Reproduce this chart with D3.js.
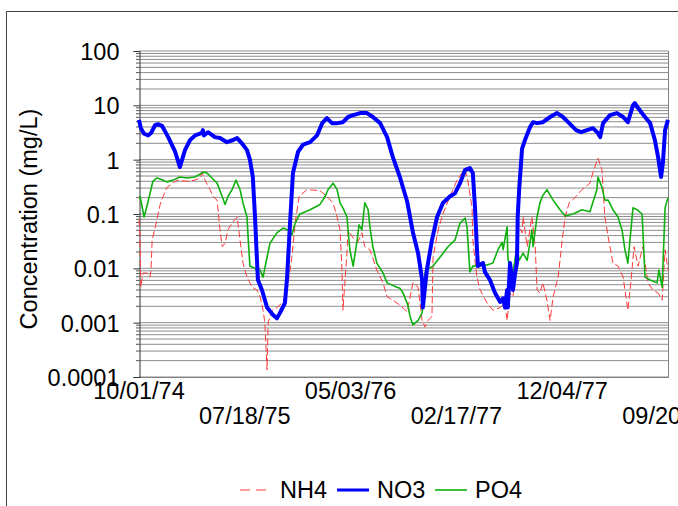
<!DOCTYPE html>
<html>
<head>
<meta charset="utf-8">
<script src="https://cdnjs.cloudflare.com/ajax/libs/d3/7.8.5/d3.min.js"></script>
<style>
  body { margin: 0; background: #fff; }
  svg { display: block; font-family: Arial, "Liberation Sans", sans-serif; }
</style>
</head>
<body>
<svg id="chart"></svg>
<script>
'use strict';

// sample day (days after 10/01/74) and concentration (mg/L) for each series
var startDate = "10/01/74";

var nh4Day = [0,3,5,11,22,30,33,36,44,49,
  58,66,77,85,104,132,153,167,173,181,
  195,203,214,222,228,236,244,255,263,269,
  277,285,296,310,323,332,340,345,351,354,
  365,378,395,406,419,428,439,460,496,515,
  532,543,551,556,559,570,573,587,600,611,
  619,633,652,669,680,696,715,735,751,765,
  776,784,792,803,806,820,833,852,872,885,
  894,902,913,915,926,935,954,970,990,1003,
  1009,1017,1025,1036,1039,1050,1053,1064,1077,1086,
  1091,1099,1107,1118,1127,1135,1149,1160,1168,1179,
  1198,1214,1236,1244,1258,1269,1277,1286,1299,1313,
  1327,1340,1348,1357,1368,1381,1395,1409,1423,1434,
  1442,1450];
var nh4Val = [0.078,0.033,0.0045,0.0082,0.0082,0.0069,0.0093,0.033,0.055,0.078,
  0.15,0.21,0.31,0.34,0.42,0.40,0.42,0.46,0.57,0.42,
  0.28,0.21,0.18,0.051,0.025,0.029,0.051,0.068,0.078,0.088,
  0.033,0.0125,0.0069,0.0045,0.004,0.003,0.0017,0.001,0.000135,0.001,
  0.0017,0.0019,0.0024,0.004,0.016,0.068,0.21,0.28,0.27,0.21,
  0.16,0.088,0.051,0.011,0.0017,0.019,0.051,0.036,0.031,0.045,
  0.025,0.022,0.0093,0.0054,0.003,0.0026,0.0021,0.0016,0.0054,0.0045,
  0.0011,0.00083,0.0011,0.0013,0.016,0.051,0.10,0.21,0.42,0.57,
  0.65,0.39,0.13,0.033,0.0069,0.004,0.0023,0.0017,0.0019,0.0023,
  0.0011,0.0035,0.003,0.0125,0.068,0.045,0.088,0.025,0.088,0.025,
  0.004,0.0035,0.0054,0.0026,0.0011,0.003,0.0069,0.033,0.088,0.16,
  0.21,0.28,0.37,0.57,1.07,0.65,0.088,0.038,0.0125,0.011,
  0.0069,0.0017,0.0054,0.025,0.011,0.025,0.0054,0.004,0.0035,0.0026,
  0.022,0.0093];

var no3Day = [0,5,14,25,33,44,52,63,80,99,
  112,126,140,154,173,175,178,189,208,222,
  241,258,269,282,296,304,312,318,323,326,
  337,351,367,378,386,400,406,414,422,436,
  450,469,488,502,515,529,543,559,573,587,
  606,625,641,661,680,696,715,735,751,765,
  776,778,789,803,817,833,852,866,880,894,
  907,915,921,926,929,943,948,962,976,990,
  998,1003,1009,1011,1017,1022,1025,1031,1036,1038,
  1042,1050,1058,1072,1080,1091,1107,1127,1146,1162,
  1179,1198,1212,1228,1244,1258,1264,1272,1291,1310,
  1327,1340,1354,1359,1368,1387,1401,1414,1423,1431,
  1436,1442,1450];
var no3Val = [5.4,3.8,3.0,2.8,3.1,4.3,4.5,4.2,2.6,1.4,
  0.73,1.5,2.3,2.8,3.1,3.5,2.8,3.2,2.6,2.5,
  2.1,2.3,2.5,2.0,1.5,1.0,0.48,0.088,0.016,0.0061,
  0.004,0.0019,0.0014,0.0012,0.0015,0.0023,0.0069,0.068,0.57,1.4,
  1.9,2.1,2.8,4.7,5.8,4.7,4.7,4.9,6.1,6.6,
  7.2,7.2,6.1,4.7,2.6,1.1,0.48,0.17,0.045,0.019,
  0.0061,0.0019,0.0093,0.033,0.088,0.16,0.21,0.24,0.37,0.65,
  0.70,0.57,0.13,0.025,0.011,0.0125,0.0086,0.0061,0.0035,0.0024,
  0.0028,0.0019,0.004,0.0019,0.0125,0.0069,0.004,0.0082,0.0125,0.088,
  0.28,1.6,2.3,4.0,4.9,4.7,4.9,6.1,7.2,6.1,
  4.7,3.5,3.2,3.5,3.8,3.1,2.6,4.7,6.6,7.2,
  6.1,4.9,10,11,8.9,6.1,4.7,2.3,1.1,0.48,
  0.87,3.5,5.4];

var po4Day = [0,3,14,25,38,49,58,77,93,112,
  132,153,167,175,186,200,214,228,236,244,
  255,266,277,285,296,299,304,318,323,332,
  340,351,359,378,395,408,419,428,441,469,
  496,510,518,532,543,551,559,570,578,587,
  598,603,611,619,628,633,641,652,669,680,
  707,715,724,737,743,751,765,776,784,789,
  806,825,847,866,880,894,899,907,915,940,
  954,970,984,995,998,1009,1011,1017,1025,1036,
  1042,1053,1064,1077,1080,1091,1099,1107,1118,1135,
  1154,1168,1190,1214,1236,1255,1258,1269,1277,1286,
  1299,1313,1324,1332,1340,1354,1365,1379,1387,1401,
  1420,1425,1434,1442,1450];
var po4Val = [0.21,0.21,0.088,0.17,0.40,0.46,0.44,0.39,0.42,0.48,
  0.46,0.48,0.54,0.59,0.57,0.46,0.37,0.21,0.15,0.21,
  0.28,0.42,0.28,0.16,0.088,0.038,0.011,0.010,0.0093,0.0093,
  0.0069,0.016,0.029,0.045,0.055,0.051,0.041,0.068,0.10,0.12,
  0.15,0.21,0.28,0.37,0.28,0.16,0.13,0.088,0.022,0.011,
  0.033,0.063,0.051,0.16,0.12,0.058,0.025,0.0125,0.0082,0.0054,
  0.0045,0.0043,0.0035,0.0021,0.0013,0.00091,0.0011,0.0015,0.0082,0.0093,
  0.011,0.016,0.025,0.033,0.068,0.084,0.058,0.0086,0.011,0.0115,
  0.0115,0.0125,0.022,0.030,0.022,0.058,0.016,0.0093,0.0082,0.025,
  0.014,0.019,0.014,0.051,0.025,0.088,0.16,0.22,0.28,0.18,
  0.12,0.092,0.10,0.12,0.11,0.28,0.48,0.31,0.18,0.18,
  0.12,0.088,0.051,0.022,0.0125,0.13,0.12,0.10,0.0069,0.0061,
  0.0054,0.0093,0.0045,0.13,0.20];

var xTickLabels = ["10/01/74","07/18/75","05/03/76","02/17/77","12/04/77","09/20/78"];
var yTickValues = [0.0001,0.001,0.01,0.1,1,10,100];
var yTickLabels = ["0.0001","0.001","0.01","0.1","1","10","100"];

var seriesNames = ["NH4","NO3","PO4"];

var width = 678,
    height = 506;

var fontSize = "23.5px";

var plot = { left: 139, right: 668, top: 51, bottom: 377 };

var parseDate = d3.timeParse("%m/%d/%y");
var t0 = parseDate(startDate);

var svg = d3.select("svg#chart")
    .attr("width", width)
    .attr("height", height);

var x = d3.scaleTime()
    .domain([t0, parseDate(xTickLabels[xTickLabels.length - 1])])
    .range([plot.left, plot.right]);

var y = d3.scaleLog()
    .domain([yTickValues[0], yTickValues[yTickValues.length - 1]])
    .range([plot.bottom, plot.top]);

// outer chart frame (runs off the right and bottom of the picture)
svg.append("path")
    .attr("d", "M6.5," + height + "V11.5H" + width)
    .attr("fill", "none")
    .attr("stroke", "#404040")
    .attr("stroke-width", 1);

// minor log gridlines, 1..9 in every decade
svg.append("g")
    .selectAll("line")
    .data(y.ticks())
  .enter().append("line")
    .attr("x1", plot.left)
    .attr("x2", plot.right)
    .attr("y1", function(d) { return y(d); })
    .attr("y2", function(d) { return y(d); })
    .attr("stroke", "#8c8c8c")
    .attr("stroke-width", 1);

// right and bottom edges of the plot area
svg.append("path")
    .attr("d", "M" + plot.left + "," + (plot.bottom + 0.5) + "H" + (plot.right + 0.5) + "V" + plot.top)
    .attr("fill", "none")
    .attr("stroke", "#808080");

// y axis
var yAxis = d3.axisLeft(y)
    .tickValues(yTickValues)
    .tickFormat(function(d, i) { return yTickLabels[i]; })
    .tickSize(6)
    .tickPadding(14);

var yg = svg.append("g")
    .attr("transform", "translate(" + (plot.left + 0.5) + ",0)")
    .call(yAxis);
yg.select(".domain").attr("stroke", "#333");
yg.selectAll(".tick line").attr("stroke", "#333");
yg.selectAll(".tick text")
    .attr("fill", "#000")
    .style("font-size", fontSize)
    .attr("dy", "0.36em");

// minor ticks on the y axis
svg.append("g")
    .selectAll("line")
    .data(y.ticks().filter(function(d) { return yTickValues.indexOf(d) < 0; }))
  .enter().append("line")
    .attr("x1", plot.left - 3)
    .attr("x2", plot.left)
    .attr("y1", function(d) { return y(d); })
    .attr("y2", function(d) { return y(d); })
    .attr("stroke", "#555");

// date labels, alternating between two rows
svg.append("g")
    .selectAll("text")
    .data(xTickLabels)
  .enter().append("text")
    .attr("x", function(d) { return x(parseDate(d)); })
    .attr("y", function(d, i) { return i % 2 ? 424 : 399; })
    .attr("text-anchor", "middle")
    .style("font-size", fontSize)
    .text(function(d) { return d; });

svg.append("text")
    .attr("transform", "translate(37,219) rotate(-90)")
    .attr("text-anchor", "middle")
    .style("font-size", fontSize)
    .text("Concentration (mg/L)");

function toPoints(days, vals) {
  return days.map(function(d, i) {
    return { date: d3.timeDay.offset(t0, d), value: vals[i] };
  });
}

var line = d3.line()
    .x(function(d) { return x(d.date); })
    .y(function(d) { return y(d.value); });

var series = [
  { name: seriesNames[0], points: toPoints(nh4Day, nh4Val), color: "#ff3a3a", width: 1, dash: "7,3" },
  { name: seriesNames[2], points: toPoints(po4Day, po4Val), color: "#10b010", width: 1.6, dash: null },
  { name: seriesNames[1], points: toPoints(no3Day, no3Val), color: "#0000ff", width: 4, dash: null }
];

svg.append("g")
    .selectAll("path")
    .data(series)
  .enter().append("path")
    .attr("d", function(d) { return line(d.points); })
    .attr("fill", "none")
    .attr("stroke", function(d) { return d.color; })
    .attr("stroke-width", function(d) { return d.width; })
    .attr("stroke-dasharray", function(d) { return d.dash; })
    .attr("stroke-linejoin", "round");

// legend
var legendItems = [
  { name: "NH4", color: "#ff3a3a", width: 1, dash: "10,6", x: 240 },
  { name: "NO3", color: "#0000ff", width: 3, dash: null, x: 337 },
  { name: "PO4", color: "#10b010", width: 1.6, dash: null, x: 435 }
];

var legend = svg.append("g").attr("transform", "translate(0,490)");

var item = legend.selectAll("g")
    .data(legendItems)
  .enter().append("g")
    .attr("transform", function(d) { return "translate(" + d.x + ",0)"; });

item.append("line")
    .attr("x1", 0)
    .attr("x2", 32)
    .attr("stroke", function(d) { return d.color; })
    .attr("stroke-width", function(d) { return d.width; })
    .attr("stroke-dasharray", function(d) { return d.dash; });

item.append("text")
    .attr("x", 40)
    .attr("y", 8)
    .style("font-size", fontSize)
    .text(function(d) { return d.name; });
</script>
</body>
</html>
